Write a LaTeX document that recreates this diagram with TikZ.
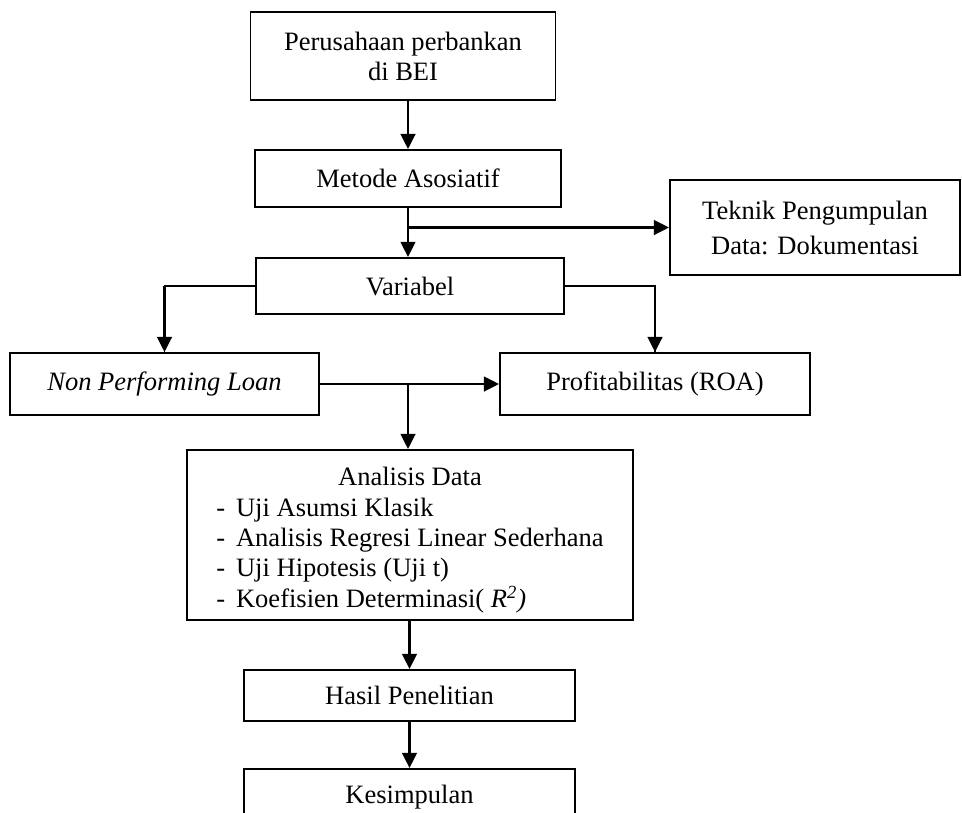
\documentclass[tikz,border=0pt]{standalone}
\usepackage{fontspec}
\setmainfont{Liberation Serif}
\usepackage{tikz}
\usetikzlibrary{arrows.meta}

\begin{document}
\begin{tikzpicture}[x=0.46pt,y=-0.46pt,
  box/.style={draw,line width=0.9pt,inner sep=0pt,align=center,font=\fontsize{12.2}{13.8}\selectfont},
  arr/.style={line width=1.1pt,-{Triangle[length=7pt,width=6.8pt]}}]
\useasboundingbox (0,0) rectangle (962,812);
\clip (0,0) rectangle (962,812);
\node [box,minimum width=140.3pt,minimum height=40.5pt] (bank) at (403,56) {Perusahaan perbankan\\di BEI};
\node [box,minimum width=140.8pt,minimum height=26.2pt] (metode) at (408,178.5) {Metode Asosiatif};
\node [box,minimum width=133.4pt,minimum height=43.7pt] (teknik) at (815,227.5) {Teknik Pengumpulan\\[2.3pt]Data: Dokumentasi};
\node [box,minimum width=142.1pt,minimum height=25.8pt] (var) at (410,286) {Variabel};
\node [box,minimum width=142.1pt,minimum height=28.5pt] (npl) at (164.5,384) {\textit{Non Performing Loan}};
\node [box,minimum width=142.6pt,minimum height=28.5pt] (roa) at (655,384) {Profitabilitas (ROA)};
\node [box,minimum width=205.2pt,minimum height=78.2pt] (analisis) at (410,535) {\rule{0pt}{15pt}Analisis Data\\[0.5pt]
  \begin{tabular}[t]{@{}l@{\hspace{5pt}}l@{}}
  - & Uji Asumsi Klasik\\
  - & Analisis Regresi Linear Sederhana\\
  - & Uji Hipotesis (Uji t)\\
  - & Koefisien Determinasi( \textit{R\textsuperscript{2})}
  \end{tabular}};
\node [box,minimum width=152.3pt,minimum height=23.5pt] (hasil) at (409.5,695.5) {Hasil Penelitian};
\node [box,minimum width=152.3pt,minimum height=25.8pt] (simpul) at (409.5,797) {Kesimpulan};
\coordinate (cab1) at (metode.south |- teknik.west);
\coordinate (cab2) at (metode.south |- npl.east);
\draw [arr] (bank.south -| metode.south) -- (metode.north);
\draw [arr] (metode.south) -- (metode.south |- var.north);
\draw [arr] (cab1) -- (teknik.west);
\draw [line width=0.5pt] (var.west) -| (npl.north);
\draw [arr] (npl.north |- var.west) -- (npl.north);
\draw [line width=0.5pt] (var.east) -| (roa.north);
\draw [arr] (roa.north |- var.east) -- (roa.north);
\draw [arr] (npl.east) -- (roa.west);
\draw [arr] (cab2) -- (cab2 |- analisis.north);
\draw [arr] (analisis.south -| hasil.north) -- (hasil.north);
\draw [arr] (hasil.south) -- (simpul.north);
\end{tikzpicture}
\end{document}
